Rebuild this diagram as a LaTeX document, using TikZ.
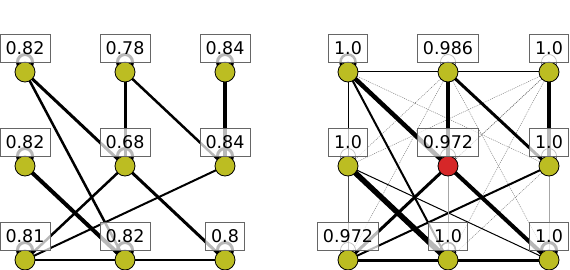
\documentclass[tikz,border=0pt]{standalone}
\usepackage{fontspec}
\setmainfont{DejaVu Sans}
\pgfdeclarelayer{bg}
\pgfdeclarelayer{fg}
\pgfsetlayers{bg,main,fg}
\definecolor{olivefill}{HTML}{BCBD22}
\definecolor{redfill}{HTML}{D62728}
\tikzset{
  vtx/.style={circle,draw=black,line width=0.8pt,fill=olivefill,minimum size=20pt,inner sep=0pt},
  hot/.style={vtx,fill=redfill},
  lbl/.style={draw=black!60,line width=0.8pt,fill=white,fill opacity=0.72,text opacity=1,
    inner xsep=5.5pt,inner ysep=0pt,minimum height=28pt,font=\fontsize{17.5}{18}\selectfont},
  ew/.style={draw=black,line width=#1pt},
  faint/.style={draw=black!55,line width=0.45pt,dash pattern=on 1pt off 1pt},
  lightedge/.style={draw=black!35,line width=1pt},
  looppen/.style={draw=black,line width=#1pt},
}
\begin{document}
\begin{tikzpicture}[x=1pt,y=-1pt]
\useasboundingbox (0,0) rectangle (570,270);
% ---------- left graph nodes
\node[vtx] (TL) at (25,72) {};
\node[vtx] (TM) at (125,72) {};
\node[vtx] (TR) at (225,72) {};
\node[vtx] (ML) at (25,166) {};
\node[vtx] (MM) at (125,166) {};
\node[vtx] (MR) at (225,166) {};
\node[vtx] (BL) at (25,260) {};
\node[vtx] (BM) at (125,260) {};
\node[vtx] (BR) at (225,260) {};
% ---------- right graph nodes
\node[vtx] (RTL) at (348,72) {};
\node[vtx] (RTM) at (448,72) {};
\node[vtx] (RTR) at (549,72) {};
\node[vtx] (RML) at (348,166) {};
\node[hot] (RMM) at (448,166) {};
\node[vtx] (RMR) at (549,166) {};
\node[vtx] (RBL) at (348,260) {};
\node[vtx] (RBM) at (448,260) {};
\node[vtx] (RBR) at (549,260) {};

\begin{pgfonlayer}{bg}
% left edges
\draw[ew=3] (TL.center) -- (MM.center);
\draw[ew=2.5] (TL.center) -- (BM.center);
\draw[ew=3] (TM.center) -- (MM.center);
\draw[ew=2.5] (TM.center) -- (MR.center);
\draw[ew=3.5] (TR.center) -- (MR.center);
\draw[ew=4] (ML.center) -- (BM.center);
\draw[ew=2.5] (MM.center) -- (BL.center);
\draw[ew=2] (MR.center) -- (BL.center);
\draw[ew=3] (MM.center) -- (BR.center);
\draw[ew=2.5] (BL.center) -- (BM.center);
\draw[ew=2.5] (BM.center) -- (BR.center);
% right faint edges
\draw[faint] (RTL.center) -- (RMR.center);
\draw[faint] (RTM.center) -- (RML.center);
\draw[faint] (RTM.center) -- (RBL.center);
\draw[faint] (RTM.center) -- (RBR.center);
\draw[faint] (RTR.center) -- (RML.center);
\draw[faint] (RTR.center) -- (RMM.center);
\draw[faint] (RTR.center) -- (RBL.center);
\draw[faint] (RTR.center) -- (RBM.center);
\draw[faint] (RMR.center) -- (RBM.center);
\draw[faint] (RML.center) -- (RBM.center);
% right edges
\draw[ew=1] (RTL.center) -- (RTM.center);
\draw[ew=1] (RTM.center) -- (RTR.center);
\draw[ew=1] (RTL.center) -- (RML.center);
\draw[draw=black!70,line width=1pt] (RML.center) -- (RBL.center);
\draw[ew=4.5] (RTL.center) -- (RMM.center);
\draw[ew=2] (RTL.center) -- (RBM.center);
\draw[ew=3.5] (RTM.center) -- (RMM.center);
\draw[ew=3] (RTM.center) -- (RMR.center);
\draw[ew=4.5] (RTR.center) -- (RMR.center);
\draw[ew=5.5] (RML.center) -- (RBM.center);
\draw[ew=3] (RMM.center) -- (RBL.center);
\draw[ew=4] (RMM.center) -- (RBR.center);
\draw[ew=2] (RMR.center) -- (RBL.center);
\draw[ew=1] (RML.center) -- (RBR.center);
\draw[ew=3] (RBL.center) -- (RBM.center);
\draw[ew=3] (RBM.center) -- (RBR.center);
\draw[lightedge] (RMM.center) -- (RBM.center);
\draw[lightedge] (RMR.center) -- (RBR.center);
% loops
\foreach \n in {TL,TM,TR,ML,MM,MR,BL,BM,BR}
  \draw[looppen=3] ([yshift=10pt]\n.center) circle[radius=7.5pt];
\draw[looppen=2.5] ([yshift=10pt]RTL.center) circle[radius=7.5pt];
\draw[looppen=0.6] ([yshift=10pt]RTM.center) circle[radius=7.5pt];
\draw[looppen=0.6] ([yshift=10pt]RTR.center) circle[radius=7.5pt];
\draw[looppen=0.6] ([yshift=10pt]RML.center) circle[radius=7.5pt];
\draw[looppen=0.6] ([yshift=10pt]RMM.center) circle[radius=7.5pt];
\draw[looppen=0.6] ([yshift=10pt]RMR.center) circle[radius=7.5pt];
\draw[looppen=0.6] ([yshift=10pt]RBL.center) circle[radius=7.5pt];
\draw[looppen=1.5] ([yshift=10pt]RBM.center) circle[radius=7.5pt];
\draw[looppen=3] ([yshift=10pt]RBR.center) circle[radius=7.5pt];
\end{pgfonlayer}

\begin{pgfonlayer}{fg}
\node[lbl] (TLl) at ([yshift=24pt]TL.center) {0.82};
\node[lbl] (TMl) at ([yshift=24pt]TM.center) {0.78};
\node[lbl] (TRl) at ([yshift=24pt]TR.center) {0.84};
\node[lbl] (MLl) at ([yshift=24pt]ML.center) {0.82};
\node[lbl] (MMl) at ([yshift=24pt]MM.center) {0.68};
\node[lbl] (MRl) at ([yshift=24pt]MR.center) {0.84};
\node[lbl] (BLl) at ([yshift=24pt]BL.center) {0.81};
\node[lbl] (BMl) at ([yshift=24pt]BM.center) {0.82};
\node[lbl] (BRl) at ([yshift=24pt]BR.center) {0.8};
\node[lbl] (RTLl) at ([yshift=24pt]RTL.center) {1.0};
\node[lbl] (RTMl) at ([yshift=24pt]RTM.center) {0.986};
\node[lbl] (RTRl) at ([yshift=24pt]RTR.center) {1.0};
\node[lbl] (RMLl) at ([yshift=24pt]RML.center) {1.0};
\node[lbl] (RMMl) at ([yshift=24pt]RMM.center) {0.972};
\node[lbl] (RMRl) at ([yshift=24pt]RMR.center) {1.0};
\node[lbl] (RBLl) at ([yshift=24pt]RBL.center) {0.972};
\node[lbl] (RBMl) at ([yshift=24pt]RBM.center) {1.0};
\node[lbl] (RBRl) at ([yshift=24pt]RBR.center) {1.0};
\end{pgfonlayer}
\end{tikzpicture}
\end{document}
